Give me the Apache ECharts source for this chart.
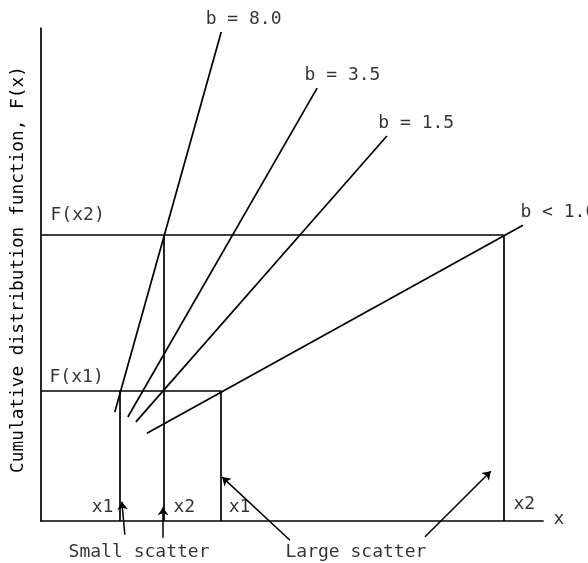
<!DOCTYPE html>
<html>
<head>
<meta charset="utf-8">
<script src="https://cdn.jsdelivr.net/npm/echarts@6/dist/echarts.min.js"></script>
<style>
  html, body { margin: 0; padding: 0; background: #fff; }
  #chart { width: 588px; height: 563px; }
</style>
</head>
<body>
<div id="chart"></div>
<script>
// Scatter limits x1, x2 on the x axis (arbitrary units) for the two cases
const smallScatterX = [15.7, 24.5];
const largeScatterX = [35.9, 92.2];
// Cumulative probability levels F(x1), F(x2)
const probLevels = [26.4, 58.0];
// Weibull shape lines: labels and end points [x, F(x)]
const slopeLabels = ['b = 8.0', 'b = 3.5', 'b = 1.5', 'b < 1.0'];
const slopeFrom = [[14.7, 22.1], [17.3, 21.1], [18.9, 20.1], [21.1, 17.8]];
const slopeTo = [[35.9, 99.2], [55.0, 87.8], [68.9, 78.1], [96.0, 60.0]];
// Remaining text
const levelLabels = ['F(x1)', 'F(x2)'];
const limitLabels = ['x1', 'x2'];
const caseLabels = ['Small scatter', 'Large scatter'];
const axisTitleY = 'Cumulative distribution function, F(x)';
const axisTitleX = 'x';

// Anchor (left edge, vertical middle) of each text, in axis units
const textAnchors = [
  [slopeLabels[0], [32.7, 101.8]],
  [slopeLabels[1], [52.4, 90.5]],
  [slopeLabels[2], [67.1, 80.7]],
  [slopeLabels[3], [95.4, 62.7]],
  [levelLabels[1], [1.8, 62.1]],
  [levelLabels[0], [1.6, 29.2]],
  [limitLabels[0], [10.0, 2.8]],
  [limitLabels[1], [26.3, 2.8]],
  [limitLabels[0], [37.3, 2.8]],
  [limitLabels[1], [94.0, 3.4]],
  [axisTitleX, [102.0, 0.4]],
  [caseLabels[0], [5.4, -6.3]],
  [caseLabels[1], [48.6, -6.3]]
];

// Pointer arrows from the case labels to the limit lines: [tail, head]
const pointerArrows = [
  [[16.7, -2.8], [16.1, 3.9]],
  [[24.3, -3.4], [24.3, 2.8]],
  [[49.6, -3.9], [36.1, 8.9]],
  [[76.5, -3.2], [89.6, 10.1]]
];

// Construction lines: F levels across to the x2/x1 limits, and drops to the axis
const frameSegments = [
  [[0, probLevels[1]], [largeScatterX[1], probLevels[1]]],
  [[0, probLevels[0]], [largeScatterX[0], probLevels[0]]],
  [[smallScatterX[0], 0], [smallScatterX[0], probLevels[0]]],
  [[smallScatterX[1], 0], [smallScatterX[1], probLevels[1]]],
  [[largeScatterX[0], 0], [largeScatterX[0], probLevels[0]]],
  [[largeScatterX[1], 0], [largeScatterX[1], probLevels[1]]]
];
const slopeSegments = slopeFrom.map((p, i) => [p, slopeTo[i]]);

const ink = '#000';
const font = 'DejaVu Sans Mono';
const stroke = { color: ink, width: 1.7, opacity: 1 };

const chart = echarts.init(document.getElementById('chart'), null, { renderer: 'canvas' });
chart.setOption({
  backgroundColor: '#fff',
  animation: false,
  grid: { left: 41, top: 28, right: 45, bottom: 42 },
  xAxis: {
    type: 'value', min: 0, max: 100,
    axisLine: { show: true, onZero: false, lineStyle: { color: ink, width: 1.7 } },
    axisTick: { show: false }, axisLabel: { show: false }, splitLine: { show: false }
  },
  yAxis: {
    type: 'value', min: 0, max: 100,
    name: axisTitleY, nameLocation: 'middle', nameGap: 14, nameRotate: 90,
    nameTextStyle: { color: ink, fontFamily: font, fontSize: 17.8, padding: [0, 0, 0, 10] },
    axisLine: { show: true, onZero: false, lineStyle: { color: ink, width: 1.7 } },
    axisTick: { show: false }, axisLabel: { show: false }, splitLine: { show: false }
  },
  series: [
    {
      type: 'lines', coordinateSystem: 'cartesian2d', clip: false, silent: true,
      lineStyle: stroke,
      data: frameSegments.map(c => ({ coords: c }))
    },
    {
      type: 'lines', coordinateSystem: 'cartesian2d', clip: false, silent: true,
      lineStyle: stroke,
      data: slopeSegments.map(c => ({ coords: c }))
    },
    {
      type: 'lines', coordinateSystem: 'cartesian2d', clip: false, silent: true,
      symbol: ['none', 'arrow'], symbolSize: [0, 8],
      lineStyle: { color: ink, width: 1.5, opacity: 1 },
      itemStyle: { color: ink },
      data: pointerArrows.map(c => ({ coords: c }))
    },
    {
      type: 'scatter', clip: false, silent: true,
      symbolSize: 1, itemStyle: { color: 'transparent' },
      label: {
        show: true, position: 'right', distance: 0,
        color: ink, fontFamily: font, fontSize: 18,
        formatter: p => p.data.name
      },
      data: textAnchors.map(([t, xy]) => ({ name: t, value: xy }))
    }
  ]
});
</script>
</body>
</html>
